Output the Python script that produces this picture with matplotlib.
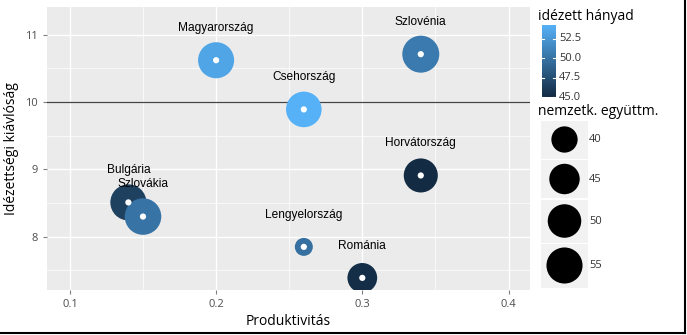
''' Productivity vs citation excellence bubble chart '''

import numpy as np
import matplotlib.pyplot as plt
from matplotlib.colors import LinearSegmentedColormap, Normalize
from matplotlib.lines import Line2D

# data
orszagok = ['Magyarország', 'Szlovénia', 'Csehország', 'Horvátország',
            'Bulgária', 'Szlovákia', 'Lengyelország', 'Románia']
produktivitas = [0.20, 0.34, 0.26, 0.34, 0.14, 0.15, 0.26, 0.30]
kivalosag = [10.62, 10.71, 9.89, 8.91, 8.51, 8.30, 7.85, 7.39]
idezett_hanyad = [53.5, 50.5, 54.3, 45.0, 46.5, 50.0, 49.8, 45.2]
nemzetk_egyuttm = [55, 57, 54, 51, 55, 56, 36, 44]

size_breaks = [40, 45, 50, 55]
color_ticks = [45.0, 47.5, 50.0, 52.5]

# ggplot default gradient
cmap = LinearSegmentedColormap.from_list('gg', ['#132B43', '#56B1F7'])
norm = Normalize(vmin=min(idezett_hanyad), vmax=max(idezett_hanyad))

smin, smax = min(nemzetk_egyuttm), max(nemzetk_egyuttm)


def radius_px(v):
    # area-like scale, like ggplot scale_size
    return 9 + 9.5 * np.sqrt((v - smin) / (smax - smin))


def msize(v):
    # scatter size in points^2 from pixel radius (dpi 100)
    r_pt = radius_px(v) * 72 / 100
    return (2 * r_pt) ** 2


plt.rcParams['font.family'] = ['Liberation Sans', 'DejaVu Sans']
uifont = ['Open Sans', 'DejaVu Sans']

fig = plt.figure(figsize=(6.87, 3.35), dpi=100)
ax = fig.add_axes([46.5 / 687, 45 / 335, (530 - 46.5) / 687, (290 - 7) / 335])

ax.set_facecolor('#EBEBEB')
for s in ax.spines.values():
    s.set_visible(False)

ax.set_xlim(0.084, 0.4147)
ax.set_ylim(7.21, 11.41)
ax.set_xticks([0.1, 0.2, 0.3, 0.4])
ax.set_xticklabels(['0.1', '0.2', '0.3', '0.4'])
ax.set_yticks([8, 9, 10, 11])
ax.set_xticks([0.15, 0.25, 0.35], minor=True)
ax.set_yticks([7.5, 8.5, 9.5, 10.5], minor=True)
ax.grid(which='major', color='white', lw=1.0)
ax.grid(which='minor', color='white', lw=0.5)
ax.set_axisbelow(True)
ax.tick_params(which='major', colors='#7F7F7F', labelcolor='#4D4D4D',
               labelsize=8, length=3)
ax.tick_params(which='minor', length=0)
for lab in ax.get_xticklabels() + ax.get_yticklabels():
    lab.set_family(uifont)

ax.axhline(10, color='#444444', lw=0.9, zorder=1)

cols = [cmap(norm(c)) for c in idezett_hanyad]
ax.scatter(produktivitas, kivalosag, s=[msize(v) for v in nemzetk_egyuttm],
           c=cols, edgecolors='none', zorder=3)
ax.scatter(produktivitas, kivalosag, s=20, c='white', edgecolors='none', zorder=4)

for name, x, y in zip(orszagok, produktivitas, kivalosag):
    ax.text(x, y + 0.48, name, ha='center', va='center', fontsize=8.6,
            color='black', zorder=5)

ax.set_xlabel('Produktivitás', fontsize=10, family=uifont, labelpad=3)
ax.set_ylabel('Idézettségi kiávlóság', fontsize=10, family=uifont, labelpad=4)

# colour legend
fig.text(538 / 687, 1 - 16.7 / 335, 'idézett hányad', fontsize=10,
         family=uifont, va='center')
cax = fig.add_axes([541.5 / 687, 1 - 97 / 335, 14 / 687, 72 / 335])
grad = np.linspace(norm.vmin, norm.vmax, 200).reshape(-1, 1)
cax.imshow(grad, aspect='auto', cmap=cmap, norm=norm, origin='lower',
           extent=[0, 1, norm.vmin, norm.vmax])
cax.set_xlim(0, 1)
cax.set_ylim(norm.vmin, norm.vmax)
cax.set_xticks([])
cax.set_yticks([])
for s in cax.spines.values():
    s.set_visible(False)
for t in color_ticks:
    cax.plot([0, 0.2], [t, t], color='white', lw=0.8)
    cax.plot([0.8, 1], [t, t], color='white', lw=0.8)
    cax.text(1.25, t, f'{t:.1f}', fontsize=8, color='#333333', va='center',
             family=uifont, transform=cax.transData)

# size legend
fig.text(538 / 687, 1 - 111.7 / 335, 'nemzetk. együttm.', fontsize=10,
         family=uifont, va='center')
key_edges = [120, 159, 199, 243, 288]
for i, v in enumerate(size_breaks):
    top, bot = key_edges[i], key_edges[i + 1]
    yk = (top + bot) / 2
    kax = fig.add_axes([541 / 687, 1 - (bot - 0.5) / 335, 47 / 687,
                        (bot - top - 1) / 335])
    kax.set_facecolor('#F2F2F2')
    kax.set_xticks([])
    kax.set_yticks([])
    for s in kax.spines.values():
        s.set_visible(False)
    kax.set_xlim(0, 1)
    kax.set_ylim(0, 1)
    kax.scatter([0.5], [0.5], s=msize(v), c='black', edgecolors='none',
                clip_on=False)
    fig.text(589 / 687, 1 - yk / 335, str(v), fontsize=8, color='#333333',
             va='center', family=uifont)

# screenshot border on bottom and right
fig.add_artist(Line2D([0, 685 / 687], [2 / 335, 2 / 335], color='black', lw=1.5))
fig.add_artist(Line2D([685 / 687, 685 / 687], [2 / 335, 1], color='black', lw=1.5))

fig.savefig('out.png', dpi=100)
